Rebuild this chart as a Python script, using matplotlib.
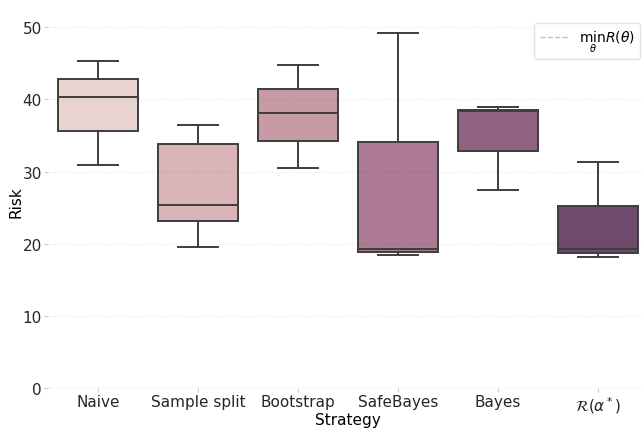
import matplotlib
matplotlib.use("Agg")
import matplotlib.pyplot as plt

strategies = ["Naive", "Sample split", "Bootstrap", "SafeBayes", "Bayes", r"$\mathcal{R}(\alpha^*)$"]
whislo = [30.9, 19.6, 30.5, 18.4, 27.4, 18.2]
q1 = [35.6, 23.2, 34.3, 18.8, 32.9, 18.7]
med = [40.3, 25.3, 38.1, 19.2, 38.4, 19.3]
q3 = [42.8, 33.8, 41.4, 34.1, 38.6, 25.2]
whishi = [45.3, 36.4, 44.8, 49.2, 38.9, 31.3]
min_risk = 0.0

colors = ["#e8d3cf", "#dbb4b8", "#c89aa6", "#ad7b94", "#916282", "#6f4a6d"]

stats = []
for i, name in enumerate(strategies):
    stats.append(dict(label=name, whislo=whislo[i], q1=q1[i], med=med[i],
                      q3=q3[i], whishi=whishi[i], fliers=[]))

fig = plt.figure(figsize=(6.42, 4.31), dpi=100)
ax = fig.add_axes([48 / 642, (431 - 389) / 431, 600 / 642, (389 - 16) / 431])

edge = "#3d3d3d"
bp = ax.bxp(stats, positions=range(len(strategies)), widths=0.8, patch_artist=True,
            showfliers=False,
            boxprops=dict(edgecolor=edge, linewidth=1.4),
            medianprops=dict(color=edge, linewidth=1.4),
            whiskerprops=dict(color=edge, linewidth=1.4),
            capprops=dict(color=edge, linewidth=1.4),
            capwidths=0.4)
for patch, c in zip(bp["boxes"], colors):
    patch.set_facecolor(c)
    patch.set_zorder(1)

ax.axhline(min_risk, color="#d4a5a5", linestyle="--", linewidth=1, alpha=0.8,
           label=r"$\min_{\theta} R(\theta)$", zorder=1.2)

ax.set_xlim(-0.5, len(strategies) - 0.5)
ax.set_ylim(0, 51.7)
ax.set_yticks([0, 10, 20, 30, 40, 50])
ax.grid(axis="y", color="black", alpha=0.1, linestyle=":", linewidth=0.8)
ax.set_axisbelow("line")
for s in ax.spines.values():
    s.set_visible(False)
ax.tick_params(colors="#cccccc", labelcolor="#262626", labelsize=11, length=3, pad=1.5)
ax.set_xlabel("Strategy", fontsize=11, labelpad=-2)
ax.set_ylabel("Risk", fontsize=11, labelpad=-1)
ax.legend(loc="upper right", fontsize=10, frameon=True, edgecolor="#dddddd",
          borderaxespad=0, bbox_to_anchor=(0.987, 0.979))

fig.savefig("out.png", dpi=100)
